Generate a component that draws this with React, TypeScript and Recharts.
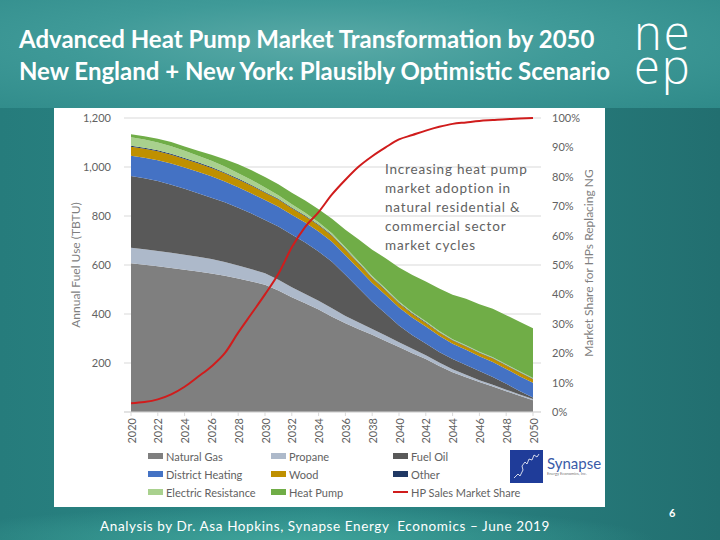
import React from 'react';
import { ComposedChart, Area, Line, XAxis, YAxis, CartesianGrid } from 'recharts';

// --- Data (TBTU per fuel, stacked bottom to top) ---
const years = [
  2020, 2021, 2022, 2023, 2024, 2025, 2026, 2027, 2028, 2029, 2030, 2031, 2032, 2033, 2034, 2035,
  2036, 2037, 2038, 2039, 2040, 2041, 2042, 2043, 2044, 2045, 2046, 2047, 2048, 2049, 2050,
];
const naturalGas = [607, 601, 595, 588, 581, 573, 565, 556, 545, 533, 519, 496, 468, 444, 418, 389, 362, 338, 315, 290, 265, 240, 216, 188, 162, 142, 122, 104, 85, 66, 48];
const propane = [63, 63, 62, 62, 61, 61, 59, 56, 53, 50, 47, 44, 41, 38, 36, 34, 30, 27, 24, 22, 20, 18, 16, 14, 12, 10, 8, 7, 6, 5, 5];
const fuelOil = [293, 290, 286, 278, 269, 259, 251, 244, 236, 227, 218, 217, 215, 210, 201, 190, 168, 140, 111, 90, 68, 55, 48, 43, 42, 40, 37, 32, 24, 15, 6];
const districtHeating = [83, 84, 85, 86, 87, 88, 87, 85, 83, 82, 81, 81, 81, 81, 82, 82, 80, 79, 77, 76, 74, 72, 69, 66, 63, 62, 61, 61, 61, 60, 60];
const wood = [37, 37, 36, 36, 35, 34, 34, 33, 32, 31, 30, 29, 27, 26, 25, 24, 22, 21, 19, 18, 16, 15, 14, 13, 13, 13, 13, 14, 14, 15, 15];
const other = [4, 4, 4, 4, 4, 4, 4, 4, 4, 4, 3, 3, 3, 3, 3, 3, 3, 3, 3, 3, 3, 3, 3, 3, 2, 2, 2, 2, 2, 2, 2];
const electricResistance = [34, 33, 32, 31, 29, 27, 26, 24, 22, 20, 18, 15, 13, 11, 9, 8, 7, 6, 6, 5, 5, 4, 4, 4, 3, 3, 3, 3, 3, 3, 3];
const heatPump = [13, 14, 15, 17, 18, 20, 24, 30, 36, 40, 43, 45, 47, 50, 54, 59, 72, 90, 107, 124, 139, 152, 163, 173, 182, 190, 194, 198, 200, 202, 203];
// HP sales market share (%)
const hpSalesShare = [3, 3.4, 4.3, 6, 8.6, 12, 15.5, 20, 27, 33.5, 40, 47, 56, 63, 68, 74, 79, 83.5, 87, 90, 92.7, 94.2, 95.7, 97, 98, 98.5, 99, 99.3, 99.6, 99.8, 100];

const leftTicks = [200, 400, 600, 800, 1000, 1200];
const rightTicks = [0, 10, 20, 30, 40, 50, 60, 70, 80, 90, 100];

// --- Series config ---
const FUEL_SERIES = [
  { key: 'naturalGas', name: 'Natural Gas', color: '#7f7f7f', values: naturalGas },
  { key: 'propane', name: 'Propane', color: '#adb9ca', values: propane },
  { key: 'fuelOil', name: 'Fuel Oil', color: '#595959', values: fuelOil },
  { key: 'districtHeating', name: 'District Heating', color: '#4472c4', values: districtHeating },
  { key: 'wood', name: 'Wood', color: '#bf9000', values: wood },
  { key: 'other', name: 'Other', color: '#203864', values: other },
  { key: 'electricResistance', name: 'Electric Resistance', color: '#a9d18e', values: electricResistance },
  { key: 'heatPump', name: 'Heat Pump', color: '#70ad47', values: heatPump },
];
const LINE_COLOR = '#d01c1c';

const data = years.map((year, i) => {
  const row: Record<string, number> = { year, hpShare: hpSalesShare[i] };
  FUEL_SERIES.forEach(s => { row[s.key] = s.values[i]; });
  return row;
});

// legend grid order, row by row like the original
const LEGEND_ORDER = [
  'naturalGas', 'propane', 'fuelOil',
  'districtHeating', 'wood', 'other',
  'electricResistance', 'heatPump', 'hpShare',
];

const FONT = 'Lato, "Open Sans", sans-serif';
const TEXT_GRAY = '#626262';

const YearTick = ({ x, y, payload }: any) => (
  <text
    x={x}
    y={y}
    transform={`rotate(-90 ${x} ${y})`}
    textAnchor="end"
    dominantBaseline="central"
    fontSize={11}
    fontFamily={FONT}
    fill={TEXT_GRAY}
  >
    {payload.value}
  </text>
);

const LegendGrid = () => (
  <div style={{ position: 'absolute', left: 94, top: 341, display: 'grid', gridTemplateColumns: '123px 122px 130px', rowGap: 4, fontFamily: FONT, fontSize: 11, color: TEXT_GRAY }}>
    {LEGEND_ORDER.map(key => {
      if (key === 'hpShare') {
        return (
          <div key={key} style={{ display: 'flex', alignItems: 'center', height: 14 }}>
            <span style={{ width: 15, height: 2, background: LINE_COLOR, marginRight: 3 }} />
            HP Sales Market Share
          </div>
        );
      }
      const s = FUEL_SERIES.find(f => f.key === key)!;
      return (
        <div key={key} style={{ display: 'flex', alignItems: 'center', height: 14 }}>
          <span style={{ width: 15, height: 6, background: s.color, marginRight: 3 }} />
          {s.name}
        </div>
      );
    })}
  </div>
);

const SynapseLogo = () => (
  <div style={{ position: 'absolute', left: 456, top: 342, display: 'flex', alignItems: 'center' }}>
    <svg width={33} height={33}>
      <rect x={0} y={0} width={33} height={33} fill="#1f3c99" />
      <path d="M4 28 L8 24 L10 26 L13 20 L12 16 L15 12 L17 14 L19 9 L22 10 L24 5 L27 7 L29 4" stroke="#ffffff" strokeWidth={0.8} fill="none" />
    </svg>
    <div style={{ marginLeft: 4, fontFamily: FONT }}>
      <div style={{ fontSize: 15, color: '#3a5ba8', lineHeight: '15px' }}>Synapse</div>
      <div style={{ fontSize: 4, color: '#777', lineHeight: '6px' }}>Energy Economics, Inc.</div>
    </div>
  </div>
);

const App: React.FC = () => (
  <div style={{
    position: 'fixed', left: 0, top: 0, width: 720, height: 540, overflow: 'hidden',
    background: 'linear-gradient(90deg, #267c7c 0%, #2b8886 45%, #267a7a 75%, #226f70 100%)',
    fontFamily: FONT,
  }}>
    {/* lighter band behind the title */}
    <div style={{ position: 'absolute', left: 0, top: 0, width: 720, height: 108, background: 'radial-gradient(ellipse at 45% 40%, #5aaaa7 0%, #3f9a98 45%, #2f8a89 100%)' }} />
    <div style={{ position: 'absolute', left: 0, top: 500, width: 720, height: 40, background: 'radial-gradient(ellipse at 40% 100%, #3fa39a 0%, rgba(40,130,128,0) 60%)' }} />

    <div style={{ position: 'absolute', left: 19, top: 23, color: '#ffffff', fontSize: 24, fontWeight: 700, lineHeight: '32px', whiteSpace: 'nowrap' }}>
      <div>Advanced Heat Pump Market Transformation by 2050</div>
      <div>New England + New York: Plausibly Optimistic Scenario</div>
    </div>
    <div style={{ position: 'absolute', left: 634, top: 15, color: '#ffffff', fontFamily: '"Open Sans", sans-serif', fontWeight: 300, fontSize: 47, lineHeight: '34px', letterSpacing: 2, whiteSpace: 'pre' }}>
      {'ne\nep'}
    </div>

    {/* white chart panel */}
    <div style={{ position: 'absolute', left: 54, top: 108, width: 551, height: 399, background: '#ffffff' }}>
      <ComposedChart width={551} height={340} data={data} margin={{ top: 10, right: 0, bottom: 0, left: 0 }}>
        <CartesianGrid vertical={false} stroke="#d9d9d9" yAxisId="left" />
        <XAxis
          dataKey="year"
          interval={1}
          tick={<YearTick />}
          tickSize={4}
          tickMargin={2}
          tickLine={{ stroke: '#d9d9d9' }}
          axisLine={{ stroke: '#d9d9d9' }}
          padding={{ left: 7, right: 8 }}
          height={36}
        />
        <YAxis
          yAxisId="left"
          domain={[0, 1200]}
          ticks={leftTicks}
          tickFormatter={(v: number) => v.toLocaleString('en-US')}
          axisLine={false}
          tickLine={false}
          tickMargin={7}
          width={70}
          tick={{ fontSize: 11, fill: TEXT_GRAY, fontFamily: FONT }}
        />
        <YAxis
          yAxisId="right"
          orientation="right"
          domain={[0, 100]}
          ticks={rightTicks}
          tickFormatter={(v: number) => `${v}%`}
          axisLine={false}
          tickLine={false}
          tickMargin={5}
          width={64}
          tick={{ fontSize: 11, fill: TEXT_GRAY, fontFamily: FONT }}
        />
        {FUEL_SERIES.map(s => (
          <Area
            key={s.key}
            yAxisId="left"
            type="linear"
            dataKey={s.key}
            name={s.name}
            stackId="fuel"
            fill={s.color}
            fillOpacity={1}
            stroke="none"
            isAnimationActive={false}
          />
        ))}
        <Line
          yAxisId="right"
          type="monotone"
          dataKey="hpShare"
          name="HP Sales Market Share"
          stroke={LINE_COLOR}
          strokeWidth={2}
          dot={false}
          isAnimationActive={false}
        />
      </ComposedChart>

      {/* axis titles */}
      <div style={{ position: 'absolute', left: 21, top: 157, width: 0, height: 0 }}>
        <div style={{ position: 'absolute', transform: 'translate(-50%, -50%) rotate(-90deg)', whiteSpace: 'nowrap', fontSize: 12, color: '#7f7f7f' }}>
          Annual Fuel Use (TBTU)
        </div>
      </div>
      <div style={{ position: 'absolute', left: 534, top: 155, width: 0, height: 0 }}>
        <div style={{ position: 'absolute', transform: 'translate(-50%, -50%) rotate(-90deg)', whiteSpace: 'nowrap', fontSize: 12, color: '#7f7f7f' }}>
          Market Share for HPs Replacing NG
        </div>
      </div>

      {/* annotation */}
      <div style={{ position: 'absolute', left: 331, top: 52, fontSize: 13.5, lineHeight: '19px', color: TEXT_GRAY, letterSpacing: 0.8 }}>
        Increasing heat pump<br />market adoption in<br />natural residential &amp;<br />commercial sector<br />market cycles
      </div>

      <LegendGrid />
      <SynapseLogo />
    </div>

    <div style={{ position: 'absolute', left: 0, width: 650, top: 518, textAlign: 'center', color: '#ffffff', fontSize: 13.5, letterSpacing: 0.6, whiteSpace: 'pre' }}>
      Analysis by Dr. Asa Hopkins, Synapse Energy  Economics – June 2019
    </div>
    <div style={{ position: 'absolute', left: 669, top: 506, color: '#ffffff', fontSize: 11, fontWeight: 700 }}>6</div>
  </div>
);

export default App;
